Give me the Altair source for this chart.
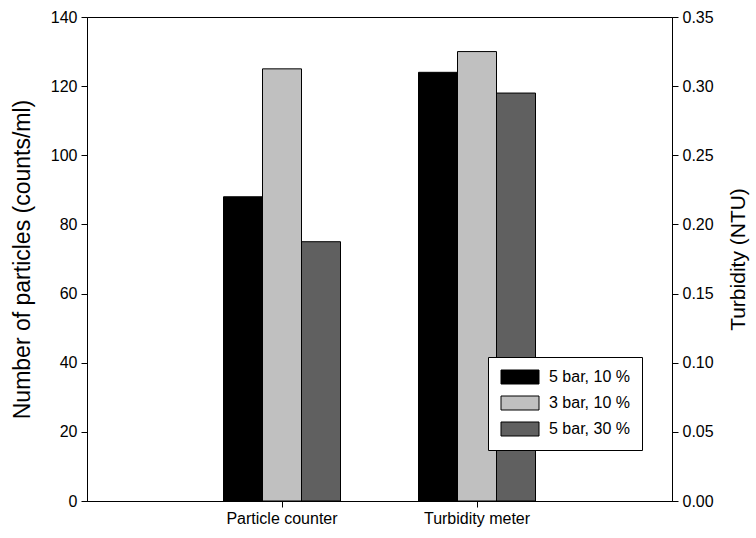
import altair as alt
import pandas as pd

# Measurement groups and filtration settings
groups = ["Particle counter", "Turbidity meter"]
series = ["5 bar, 10 %", "3 bar, 10 %", "5 bar, 30 %"]

# Particle counter readings (counts/ml) -> left axis
particle_counts = [88, 125, 75]
# Turbidity meter readings (NTU) -> right axis
turbidity_ntu = [0.310, 0.325, 0.295]

fills = ["#000000", "#c0c0c0", "#606060"]
count_ticks = [0, 20, 40, 60, 80, 100, 120, 140]
ntu_ticks = [0.0, 0.05, 0.10, 0.15, 0.20, 0.25, 0.30, 0.35]

counts_df = pd.DataFrame({"group": groups[0], "series": series, "value": particle_counts})
ntu_df = pd.DataFrame({"group": groups[1], "series": series, "value": turbidity_ntu})

FONT = "Liberation Sans"

x_enc = alt.X(
    "group:N",
    scale=alt.Scale(domain=groups, paddingInner=0.4, paddingOuter=0.7),
    axis=alt.Axis(title=None, labelAngle=0, labelFontSize=16, labelPadding=3, tickSize=6),
)
offset_enc = alt.XOffset("series:N", scale=alt.Scale(domain=series))

# Wide legend swatch: path starts at the symbol's left edge and runs right
swatch_path = "M-1,-1H4.43V1H-1Z"

color_enc = alt.Color(
    "series:N",
    scale=alt.Scale(domain=series, range=fills),
    legend=alt.Legend(
        title=None,
        orient="none",
        legendX=401,
        legendY=340,
        symbolType=swatch_path,
        symbolSize=196,
        symbolStrokeColor="black",
        symbolStrokeWidth=1,
        symbolOpacity=1,
        labelFontSize=16,
        labelFont=FONT,
        labelColor="black",
        labelOffset=33,
        padding=12,
        rowPadding=8,
        strokeColor="black",
        fillColor="white",
        cornerRadius=0,
    ),
)

bar_style = dict(stroke="black", strokeWidth=1, opacity=1)

counts_bars = alt.Chart(counts_df).mark_bar(**bar_style).encode(
    x=x_enc,
    xOffset=offset_enc,
    y=alt.Y(
        "value:Q",
        scale=alt.Scale(domain=[0, 140], nice=False, zero=True),
        axis=alt.Axis(
            orient="left",
            values=count_ticks,
            title="Number of particles (counts/ml)",
            titleFontSize=23,
            titlePadding=16,
        ),
    ),
    color=color_enc,
)

ntu_bars = alt.Chart(ntu_df).mark_bar(**bar_style).encode(
    x=x_enc,
    xOffset=offset_enc,
    y=alt.Y(
        "value:Q",
        scale=alt.Scale(domain=[0, 0.35], nice=False, zero=True),
        axis=alt.Axis(
            orient="right",
            values=ntu_ticks,
            format=".2f",
            title="Turbidity (NTU)",
            titleAngle=270,
            titleBaseline="top",
            titleFontSize=21,
            titlePadding=14,
        ),
    ),
    color=color_enc,
)

chart = (
    alt.layer(counts_bars, ntu_bars)
    .resolve_scale(y="independent")
    .properties(
        width=585,
        height=484,
        autosize=alt.AutoSizeParams(type="none"),
        padding={"left": 87, "top": 17, "right": 84, "bottom": 37},
    )
    .configure_view(stroke="black", strokeWidth=1)
    .configure_axis(
        grid=False,
        domainColor="black",
        domainWidth=1,
        tickColor="black",
        tickWidth=1,
        tickSize=6,
        labelColor="black",
        labelFont=FONT,
        labelFontSize=16,
        labelPadding=4,
        titleColor="black",
        titleFont=FONT,
        titleFontWeight="normal",
    )
)

chart.save("out.html", embed_options={"renderer": "svg", "actions": False})
